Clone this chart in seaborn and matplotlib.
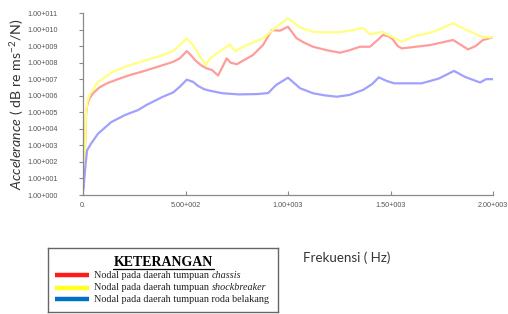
import numpy as np
import pandas as pd
import seaborn as sns
import matplotlib.pyplot as plt

# Values (frequency in Hz, accelerance as log10 exponent)
freq_chassis = [2, 8, 15, 20, 30, 49, 80, 117, 170, 229, 300, 390, 440, 473, 495, 506, 530, 546,
                575, 603, 630, 659, 701, 720, 750, 829, 878, 921, 961, 1000, 1042, 1080, 1122,
                1190, 1254, 1300, 1351, 1400, 1440, 1463, 1490, 1512, 1535, 1555, 1693, 1805,
                1840, 1878, 1915, 1951, 2000]
exp_chassis = [0.5, 2.0, 4.9, 5.4, 5.8, 6.15, 6.5, 6.75, 7.0, 7.25, 7.5, 7.85, 8.05, 8.27, 8.55,
               8.7, 8.4, 8.16, 7.85, 7.65, 7.55, 7.22, 8.26, 8.0, 7.9, 8.46, 9.06, 9.97, 9.93,
               10.17, 9.47, 9.2, 8.96, 8.75, 8.6, 8.75, 8.96, 8.96, 9.4, 9.67, 9.6, 9.4, 9.0,
               8.86, 9.06, 9.37, 9.1, 8.8, 9.0, 9.37, 9.53]

freq_shock = [2, 8, 15, 20, 25, 34, 49, 67, 88, 146, 229, 311, 390, 440, 473, 506, 537, 570,
              600, 620, 670, 717, 741, 799, 878, 925, 1000, 1059, 1122, 1190, 1254, 1310, 1366,
              1400, 1457, 1510, 1555, 1610, 1707, 1805, 1873, 1951, 2000]
exp_shock = [0.7, 2.2, 5.0, 5.5, 5.8, 6.1, 6.35, 6.75, 6.95, 7.45, 7.85, 8.16, 8.46, 8.7, 9.06,
             9.47, 9.06, 8.4, 7.85, 8.27, 8.7, 9.1, 8.7, 9.06, 9.47, 9.97, 10.68, 10.12, 9.86,
             9.83, 9.84, 9.95, 10.1, 9.7, 9.86, 9.55, 9.26, 9.57, 9.86, 10.37, 9.97, 9.53, 9.53]

freq_rear = [2, 8, 12, 20, 39, 73, 137, 204, 268, 311, 390, 440, 473, 506, 537, 560, 590, 620,
             680, 760, 850, 903, 942, 1000, 1059, 1122, 1180, 1239, 1300, 1366, 1410, 1443, 1480,
             1517, 1653, 1736, 1810, 1863, 1937, 1966, 2000]
exp_rear = [0.3, 1.2, 1.8, 2.7, 3.1, 3.7, 4.4, 4.83, 5.13, 5.45, 5.94, 6.2, 6.55, 6.97, 6.84, 6.6,
            6.4, 6.3, 6.15, 6.08, 6.1, 6.16, 6.65, 7.09, 6.45, 6.15, 6.02, 5.94, 6.05, 6.35, 6.7,
            7.11, 6.9, 6.75, 6.75, 7.04, 7.5, 7.14, 6.8, 7.0, 7.0]

series_names = ["chassis", "shockbreaker", "roda belakang"]
line_colors = ["#ff9c9c", "#ffff80", "#a0a0ff"]
legend_colors = ["#ff1a1a", "#ffff22", "#0070c8"]

y_exponents = list(range(0, 12))
x_ticks = [0, 500, 1000, 1500, 2000]
x_ticklabels = ["0.", "5.00+002", "1.00+003", "1.50+003", "2.00+003"]

df = pd.concat([
    pd.DataFrame({"freq": freq_chassis, "acc": 10.0 ** np.array(exp_chassis), "series": series_names[0]}),
    pd.DataFrame({"freq": freq_shock, "acc": 10.0 ** np.array(exp_shock), "series": series_names[1]}),
    pd.DataFrame({"freq": freq_rear, "acc": 10.0 ** np.array(exp_rear), "series": series_names[2]}),
])

sns.set_theme(style="white")
plt.rcParams["font.family"] = ["Lato", "DejaVu Sans"]
plt.rcParams["mathtext.fontset"] = "custom"
plt.rcParams["mathtext.rm"] = "Lato"
plt.rcParams["mathtext.it"] = "Lato:italic"

tick_font = "Liberation Sans"
tick_size = 5.2

fig = plt.figure(figsize=(5.08, 3.14), dpi=100)
ax = fig.add_axes([83 / 508, 1 - 195 / 314, 410 / 508, 182 / 314])

sns.lineplot(data=df, x="freq", y="acc", hue="series", palette=dict(zip(series_names, line_colors)),
             hue_order=series_names, estimator=None, linewidth=1.6, legend=False, ax=ax)

ax.set_yscale("log")
ax.set_ylim(1, 1e11)
ax.set_xlim(0, 2000)
ax.set_yticks([10.0 ** k for k in y_exponents])
ax.set_yticklabels([f"1.00+{k:03d}" for k in y_exponents])
ax.minorticks_off()
ax.set_xticks(x_ticks)
ax.set_xticklabels(x_ticklabels)

for side in ["top", "right"]:
    ax.spines[side].set_visible(False)
for side in ["left", "bottom"]:
    ax.spines[side].set_color("#8a8a8a")
    ax.spines[side].set_linewidth(0.9)

ax.tick_params(axis="y", which="major", left=True, direction="out", length=3, width=0.8,
               color="#8a8a8a", pad=15, labelsize=tick_size, labelcolor="#555555")
ax.tick_params(axis="x", which="major", bottom=True, direction="in", length=3, width=0.8,
               color="#8a8a8a", pad=5, labelsize=tick_size, labelcolor="#555555")
for lab in ax.get_xticklabels() + ax.get_yticklabels():
    lab.set_family(tick_font)

ax.set_xlabel("")
ax.set_ylabel("")
fig.text(17 / 508, 1 - 104 / 314, r"$\mathit{Accelerance}$ ( dB re ms$^{-2}$/N)",
         rotation=90, ha="center", va="center", fontsize=10.2, color="#333333")
fig.text(303 / 508, 1 - 258 / 314, "Frekuensi ( Hz)", ha="left", va="center",
         fontsize=9.6, color="#333333")

# Legend box (KETERANGAN)
lax = fig.add_axes([48 / 508, 1 - 312 / 314, 230 / 508, 64 / 314])
lax.set_xlim(0, 230)
lax.set_ylim(64, 0)
lax.set_xticks([])
lax.set_yticks([])
for s in lax.spines.values():
    s.set_color("#666666")
    s.set_linewidth(1.0)

serif = "Liberation Serif"
lax.text(115, 14.5, "KETERANGAN", ha="center", va="center", family=serif,
         fontweight="bold", fontsize=10, color="black")
lax.plot([65, 166], [20.5, 20.5], color="black", lw=0.9)

rows = [27, 40, 51]
plain = "Nodal pada daerah tumpuan "
italic_parts = ["chassis", "shockbreaker", None]
fig.canvas.draw()
renderer = fig.canvas.get_renderer()
for y, col, it in zip(rows, legend_colors, italic_parts):
    lax.plot([7, 41], [y, y], color=col, lw=3.2, solid_capstyle="butt")
    first = plain if it else plain + "roda belakang"
    t = lax.text(46, y, first, ha="left", va="center", family=serif, fontsize=7.3, color="#222222")
    if it:
        bb = t.get_window_extent(renderer).transformed(lax.transData.inverted())
        lax.text(bb.x1 + 0.5, y, it, ha="left", va="center", family=serif, style="italic",
                 fontsize=7.3, color="#222222")

fig.savefig("out.png", dpi=100, facecolor="white")
